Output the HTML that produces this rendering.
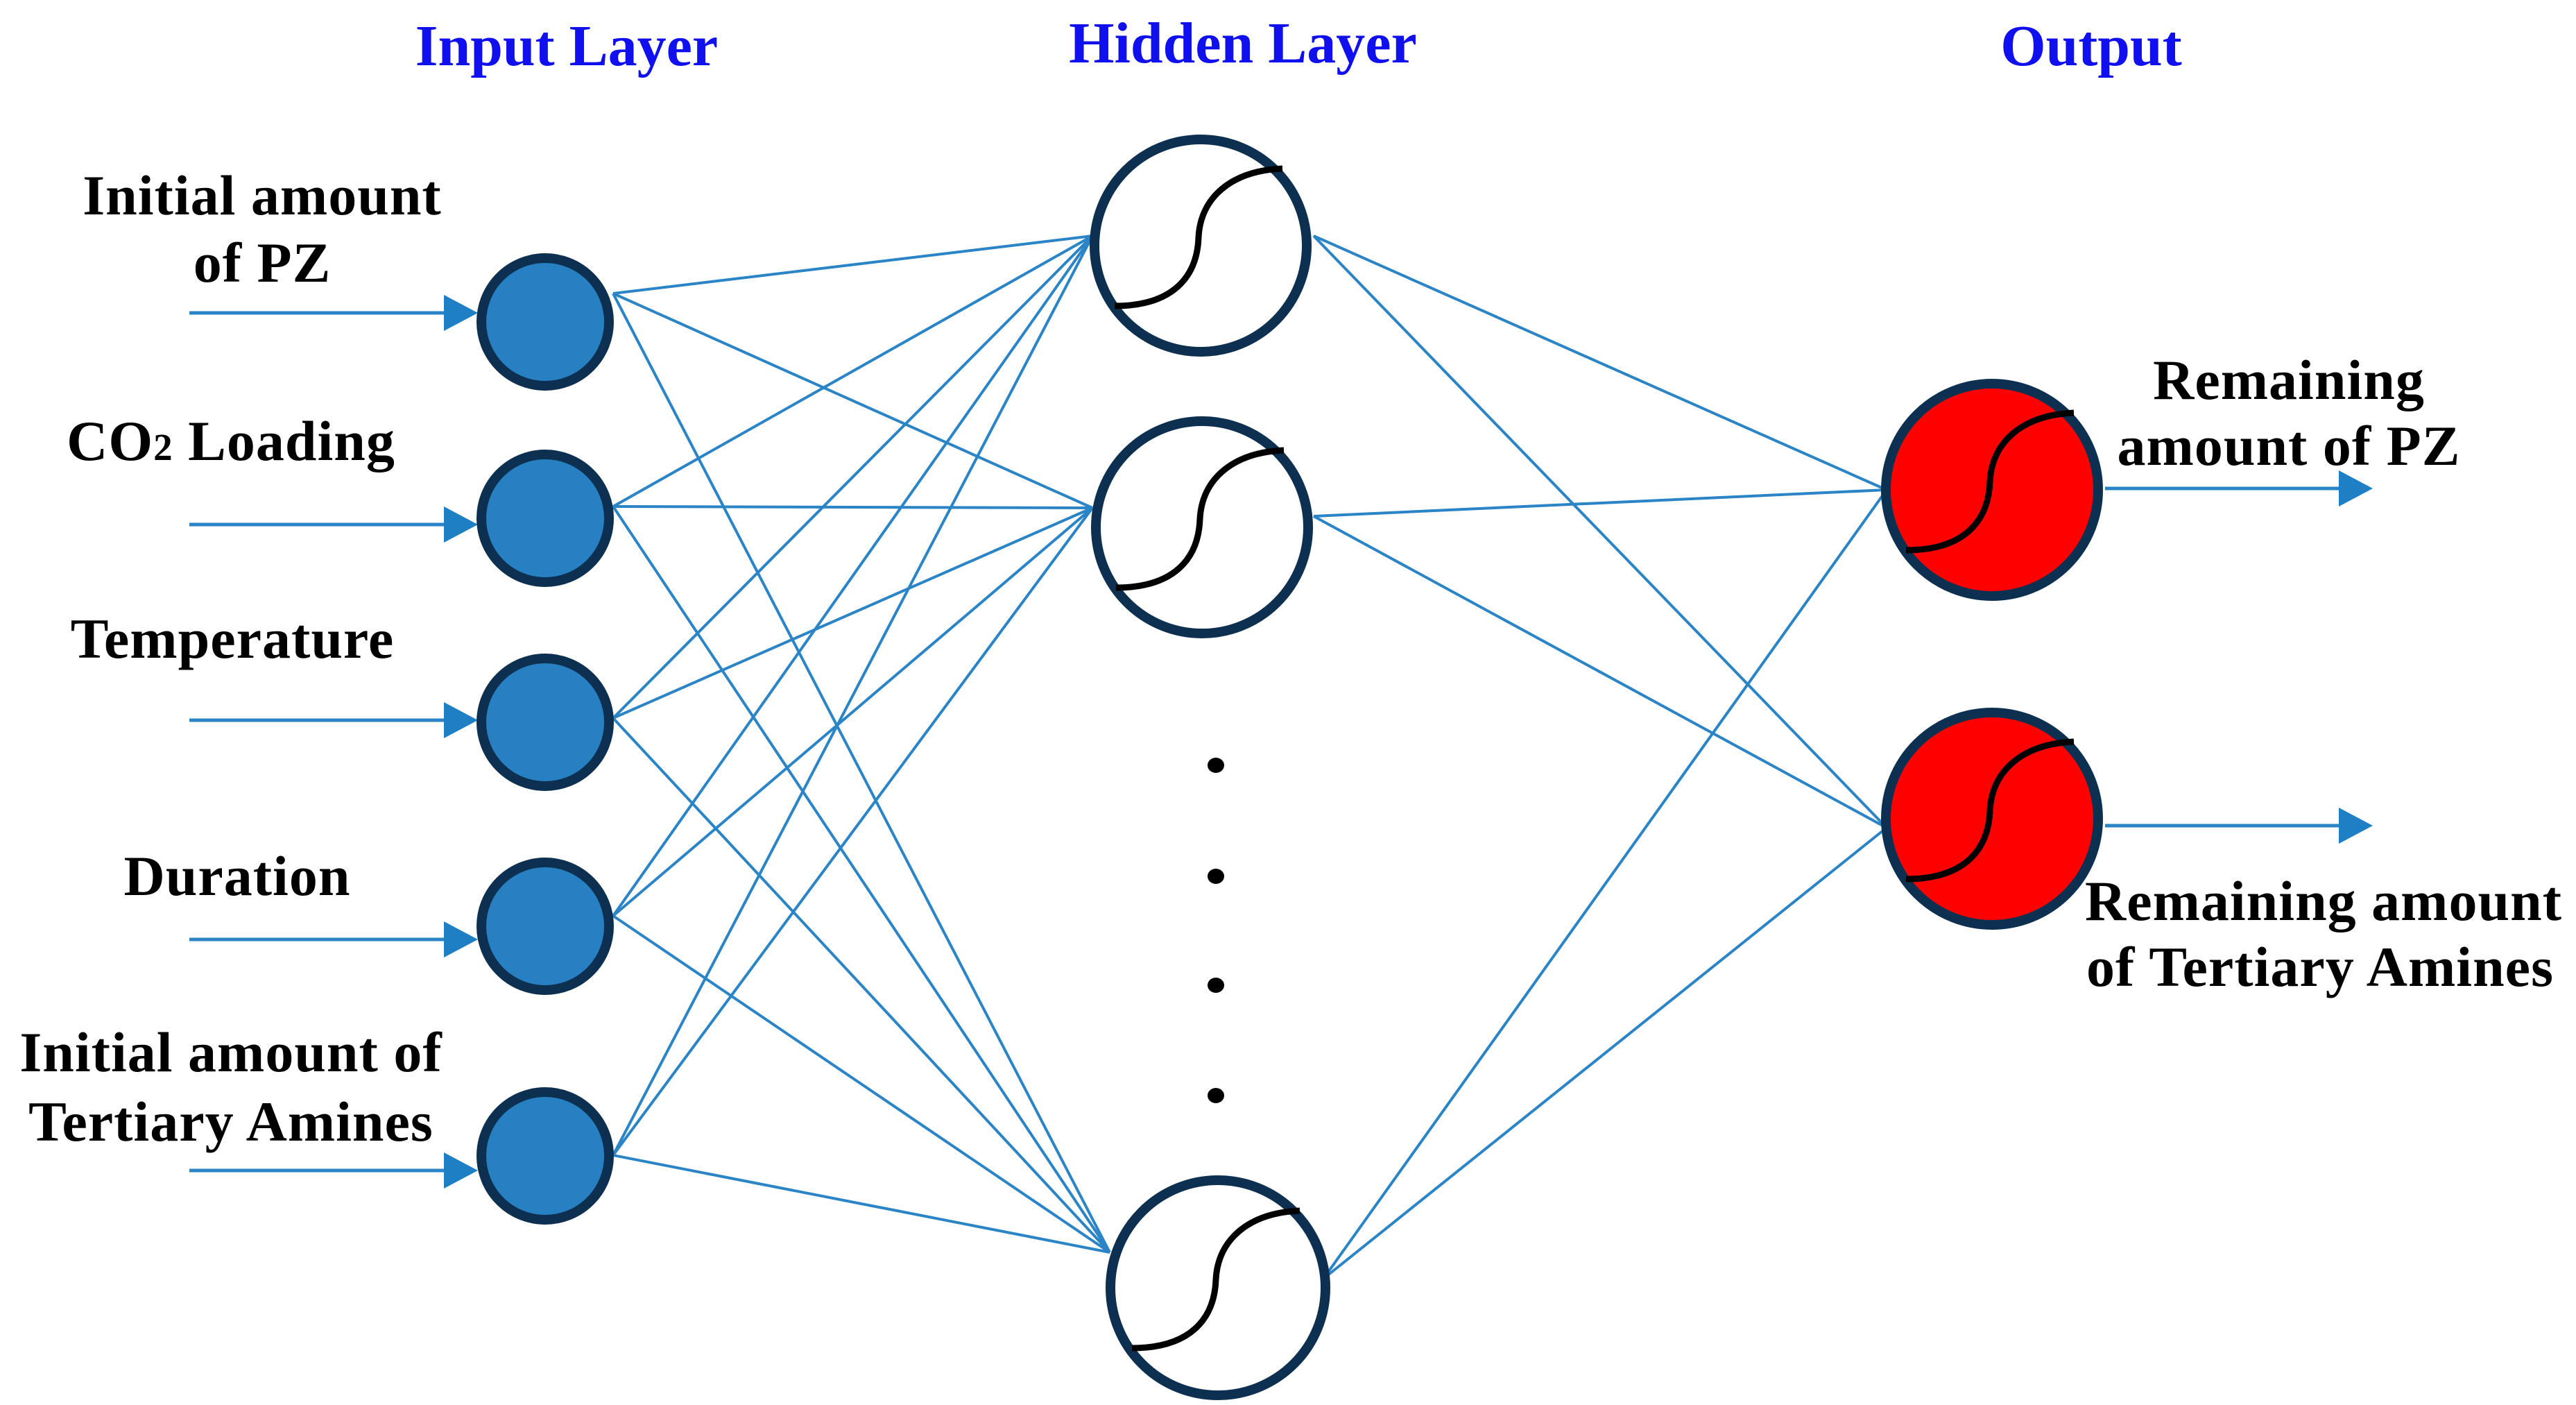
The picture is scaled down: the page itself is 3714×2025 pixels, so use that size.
<!DOCTYPE html>
<html><head><meta charset="utf-8"><style>
html,body{margin:0;padding:0;background:#fff;}
svg{display:block;}
text{font-family:"Liberation Serif",serif;font-weight:bold;}
</style></head><body>
<svg width="3714" height="2025" viewBox="0 0 3714 2025" xmlns="http://www.w3.org/2000/svg">
<defs>
<g id="sig"><path d="M-124,87 C-40,87 -5,45 -3,-12 C0,-70 45,-108 118,-111" fill="none" stroke="#000" stroke-width="9"/></g>
</defs>
<rect width="3714" height="2025" fill="#fff"/>
<g fill="#1010ee" font-size="84" text-anchor="middle">
<text x="817" y="94">Input Layer</text>
<text x="1792" y="90">Hidden Layer</text>
<text x="3015" y="94">Output</text>
</g>
<g fill="#000" font-size="82" letter-spacing="1" text-anchor="middle">
<text x="378" y="309">Initial amount</text>
<text x="378" y="406">of PZ</text>
<text x="333" y="663">CO<tspan font-size="55">2</tspan> Loading</text>
<text x="335" y="948">Temperature</text>
<text x="342" y="1290">Duration</text>
<text x="333" y="1544">Initial amount of</text>
<text x="333" y="1644">Tertiary Amines</text>
<text x="3300" y="575">Remaining</text>
<text x="3300" y="670">amount of PZ</text>
<text x="3350" y="1326">Remaining amount</text>
<text x="3345" y="1421">of Tertiary  Amines</text>
</g>
<g stroke="#2a84c6" stroke-width="4" fill="none">
<line x1="884" y1="423" x2="1575" y2="340"/><line x1="884" y1="423" x2="1575" y2="732"/><line x1="884" y1="423" x2="1600" y2="1805"/>
<line x1="884" y1="730" x2="1575" y2="340"/><line x1="884" y1="730" x2="1575" y2="732"/><line x1="884" y1="730" x2="1600" y2="1805"/>
<line x1="884" y1="1035" x2="1575" y2="340"/><line x1="884" y1="1035" x2="1575" y2="732"/><line x1="884" y1="1035" x2="1600" y2="1805"/>
<line x1="884" y1="1320" x2="1575" y2="340"/><line x1="884" y1="1320" x2="1575" y2="732"/><line x1="884" y1="1320" x2="1600" y2="1805"/>
<line x1="884" y1="1665" x2="1575" y2="340"/><line x1="884" y1="1665" x2="1575" y2="732"/><line x1="884" y1="1665" x2="1600" y2="1805"/>
<line x1="1894" y1="340" x2="2720" y2="706"/><line x1="1894" y1="340" x2="2720" y2="1193"/>
<line x1="1894" y1="744" x2="2720" y2="706"/><line x1="1894" y1="744" x2="2720" y2="1193"/>
<line x1="1908" y1="1843" x2="2720" y2="706"/><line x1="1908" y1="1843" x2="2720" y2="1193"/>
<g stroke-width="5">
<line x1="273" y1="451" x2="650" y2="451"/><line x1="273" y1="756" x2="650" y2="756"/>
<line x1="273" y1="1038" x2="650" y2="1038"/><line x1="273" y1="1354" x2="650" y2="1354"/>
<line x1="273" y1="1687" x2="650" y2="1687"/>
<line x1="3035" y1="704" x2="3380" y2="704"/><line x1="3035" y1="1190" x2="3380" y2="1190"/>
</g>
</g>
<g fill="#1f7fc4">
<polygon points="640,425 689,451 640,477"/><polygon points="640,730 689,756 640,782"/>
<polygon points="640,1012 689,1038 640,1064"/><polygon points="640,1328 689,1354 640,1380"/>
<polygon points="640,1661 689,1687 640,1713"/>
<polygon points="3372,678 3421,704 3372,730"/><polygon points="3372,1164 3421,1190 3372,1216"/>
</g>
<g fill="#2680c2" stroke="#0d3050" stroke-width="14">
<circle cx="786" cy="464" r="92"/><circle cx="786" cy="747" r="92"/>
<circle cx="786" cy="1041" r="92"/><circle cx="786" cy="1335" r="92"/>
<circle cx="786" cy="1666" r="92"/>
</g>
<g fill="#fff" stroke="#0d3050" stroke-width="14">
<circle cx="1731" cy="354" r="153"/><circle cx="1733" cy="760" r="153"/><circle cx="1756" cy="1856" r="155"/>
</g>
<use href="#sig" x="1731" y="354"/><use href="#sig" x="1733" y="760"/><use href="#sig" x="1756" y="1856"/>
<g fill="#ff0000" stroke="#0d3050" stroke-width="14">
<circle cx="2872" cy="706" r="153"/><circle cx="2872" cy="1180" r="153"/>
</g>
<use href="#sig" x="2872" y="706"/><use href="#sig" x="2872" y="1180"/>
<g fill="#000">
<ellipse cx="1753" cy="1103" rx="12" ry="11"/><ellipse cx="1753" cy="1263" rx="12" ry="11"/>
<ellipse cx="1753" cy="1420" rx="12" ry="11"/><ellipse cx="1753" cy="1579" rx="12" ry="11"/>
</g>
</svg>
</body></html>
